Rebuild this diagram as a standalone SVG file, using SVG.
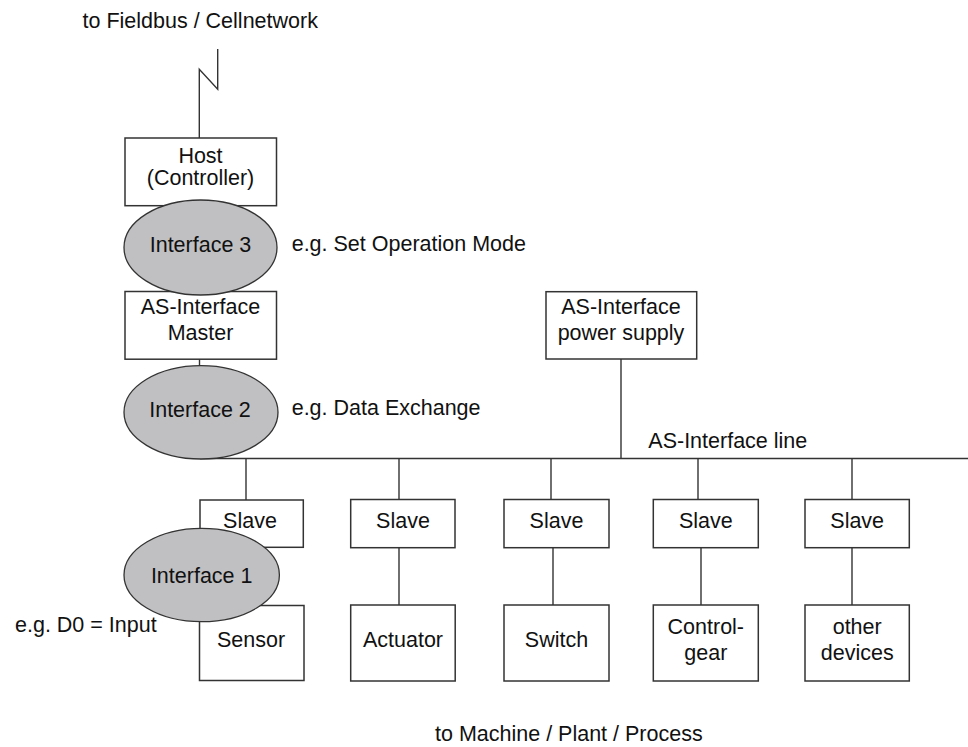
<svg xmlns="http://www.w3.org/2000/svg" width="968" height="747" viewBox="0 0 968 747">
<style>
  .box { fill: #ffffff; stroke: #333333; stroke-width: 1.5; }
  .ell { fill: #c0c0c2; stroke: #333333; stroke-width: 1.3; }
  .ln { fill: none; stroke: #333333; stroke-width: 1.4; }
  text { font-family: "Liberation Sans", Arial, sans-serif; font-size: 21.5px; fill: #111111; }
  .c { text-anchor: middle; }
</style>
<rect width="968" height="747" fill="#ffffff"/>
<text x="82.5" y="28">to Fieldbus / Cellnetwork</text>
<g id="connectors">
  <polyline class="ln" points="217.7,49 217.7,89.3 199.3,69.3 199.3,138"/>
  <line class="ln" x1="199.5" y1="359" x2="199.5" y2="366"/>
  <line class="ln" x1="621" y1="359" x2="621" y2="458.5"/>
  <line class="ln" x1="200" y1="458.5" x2="968" y2="458.5"/>
  <line class="ln" x1="246" y1="458.5" x2="246" y2="500"/>
  <line class="ln" x1="399" y1="458.5" x2="399" y2="499.5"/>
  <line class="ln" x1="551" y1="458.5" x2="551" y2="499.5"/>
  <line class="ln" x1="698" y1="458.5" x2="698" y2="499.5"/>
  <line class="ln" x1="852" y1="458.5" x2="852" y2="499.5"/>
  <line class="ln" x1="399" y1="547.5" x2="399" y2="605"/>
  <line class="ln" x1="553" y1="547.5" x2="553" y2="605"/>
  <line class="ln" x1="701" y1="547.5" x2="701" y2="605"/>
  <line class="ln" x1="852" y1="547.5" x2="852" y2="605"/>
</g>
<g id="host">
  <rect class="box" x="125" y="138" width="151.5" height="67.7"/>
  <text class="c" x="200.5" y="163">Host</text>
  <text class="c" x="200.5" y="185">(Controller)</text>
</g>
<g id="master">
  <rect class="box" x="125" y="291.5" width="151.5" height="67.7"/>
  <text class="c" x="200.5" y="313.5">AS-Interface</text>
  <text class="c" x="200.5" y="339.5">Master</text>
</g>
<g id="power">
  <rect class="box" x="546" y="291.7" width="150.7" height="67.3"/>
  <text class="c" x="621" y="314.3">AS-Interface</text>
  <text class="c" x="621" y="339.5">power supply</text>
</g>
<text x="648.3" y="448">AS-Interface line</text>
<g id="slave1">
  <rect class="box" x="200" y="500" width="103.3" height="47.3"/>
  <text class="c" x="250" y="528.3">Slave</text>
</g>
<g id="slave2">
  <rect class="box" x="350.7" y="499.5" width="104.3" height="48.2"/>
  <text class="c" x="403" y="528.3">Slave</text>
</g>
<g id="slave3">
  <rect class="box" x="504" y="499.5" width="105" height="48.2"/>
  <text class="c" x="556.5" y="528.3">Slave</text>
</g>
<g id="slave4">
  <rect class="box" x="653.3" y="499.5" width="105" height="48.2"/>
  <text class="c" x="705.8" y="528.3">Slave</text>
</g>
<g id="slave5">
  <rect class="box" x="805" y="499.5" width="104.3" height="48.2"/>
  <text class="c" x="857.2" y="528.3">Slave</text>
</g>
<g id="sensor">
  <rect class="box" x="199.5" y="605.5" width="104.5" height="75"/>
  <text class="c" x="251" y="647">Sensor</text>
</g>
<g id="actuator">
  <rect class="box" x="350.7" y="605" width="104.5" height="76"/>
  <text class="c" x="403" y="647">Actuator</text>
</g>
<g id="switch">
  <rect class="box" x="504" y="605" width="105" height="76"/>
  <text class="c" x="556.5" y="647">Switch</text>
</g>
<g id="controlgear">
  <rect class="box" x="653.3" y="605" width="105" height="76"/>
  <text class="c" x="705.8" y="634">Control-</text>
  <text class="c" x="705.8" y="659.5">gear</text>
</g>
<g id="otherdevices">
  <rect class="box" x="805" y="605" width="104.3" height="76"/>
  <text class="c" x="857.2" y="634">other</text>
  <text class="c" x="857.2" y="659.5">devices</text>
</g>
<g id="interface3">
  <ellipse class="ell" cx="200.5" cy="247.5" rx="76.5" ry="47.5"/>
  <text class="c" x="200.5" y="251.5">Interface 3</text>
</g>
<text x="291.7" y="251">e.g. Set Operation Mode</text>
<g id="interface2">
  <ellipse class="ell" cx="201" cy="412.3" rx="77" ry="46.7"/>
  <text class="c" x="200" y="417">Interface 2</text>
</g>
<text x="291.7" y="415">e.g. Data Exchange</text>
<g id="interface1">
  <ellipse class="ell" cx="201.7" cy="575" rx="77.7" ry="46.7"/>
  <text class="c" x="201.7" y="583">Interface 1</text>
</g>
<text x="15" y="631.7">e.g. D0 = Input</text>
<text x="435" y="741">to Machine / Plant / Process</text>
</svg>
